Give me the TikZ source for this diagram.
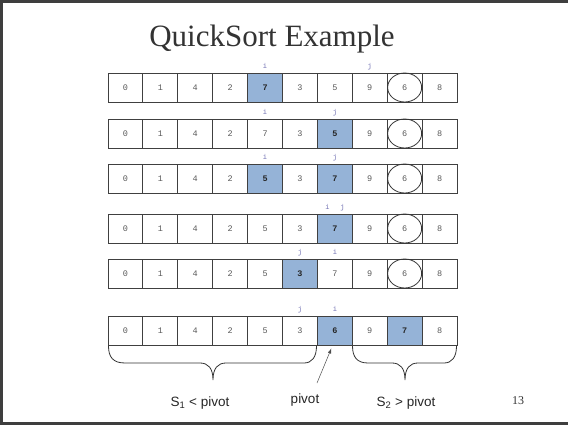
\documentclass[tikz,border=0pt]{standalone}
\usepackage{fontspec}
\setmainfont{Liberation Serif}
\setsansfont{Liberation Sans}
\setmonofont{Liberation Mono}
\usetikzlibrary{shapes.geometric, arrows.meta, positioning, calc}

\definecolor{cellblue}{RGB}{149,179,215}
\definecolor{idxblue}{RGB}{112,112,178}
\definecolor{framegray}{RGB}{62,62,62}

\begin{document}
\begin{tikzpicture}[
  x=1pt, y=-1pt,
  cell/.style    = {rectangle, draw=black!75, line width=0.9pt,
                    minimum width=34.9pt, minimum height=29pt, inner sep=0pt,
                    text=black!65},
  pivring/.style = {ellipse, draw=black!80, line width=0.8pt,
                    minimum width=34pt, minimum height=29pt, inner sep=0pt},
  idx/.style     = {font=\fontsize{7}{8}\selectfont\ttfamily, text=idxblue,
                    inner sep=0pt, anchor=base},
  lbl/.style     = {font=\fontsize{13.5}{15}\selectfont\sffamily, text=black!85,
                    inner sep=0pt, anchor=base},
  brace/.style   = {draw=black!80, line width=0.8pt},
  ptr/.style     = {-{Latex[length=5pt,width=3.5pt]}, draw=black!70, line width=0.5pt},
]

\useasboundingbox (0,0) rectangle (568,425);

% ── Slide frame ───────────────────────────────────────────────────────────────
\draw[framegray, line width=2.6pt] (1.3,1.3) rectangle (580,423.7);

% ── Title ─────────────────────────────────────────────────────────────────────
\node[anchor=base, inner sep=0pt, text=black!80,
      font=\fontsize{31}{34}\selectfont] (title) at (272,47) {QuickSort Example};

% ── Array rows (row / y centre / values / highlighted cells) ─────────────────
\foreach \r/\yc/\vals/\ha/\hb in {
    1/87.5/{0,1,4,2,7,3,5,9,6,8}/4/-1,
    2/133.5/{0,1,4,2,7,3,5,9,6,8}/6/-1,
    3/178.5/{0,1,4,2,5,3,7,9,6,8}/4/6,
    4/228.5/{0,1,4,2,5,3,7,9,6,8}/6/-1,
    5/273.5/{0,1,4,2,5,3,7,9,6,8}/5/-1,
    6/330.5/{0,1,4,2,5,3,6,9,7,8}/6/8}
  \foreach \v [count=\k from 0] in \vals {
    \pgfmathtruncatemacro\hl{(\k==\ha)||(\k==\hb)}
    \ifnum\hl=1
      \def\cfill{cellblue}\def\cfont{\bfseries}\def\ctext{black!85}
    \else
      \def\cfill{white}\def\cfont{}\def\ctext{black!65}
    \fi
    \node[cell, fill=\cfill, text=\ctext,
          font=\fontsize{8.5}{10}\selectfont\ttfamily\cfont]
      (c\r-\k) at ({108+34.9*(\k+0.5)},\yc) {\v};
  }

% ── Pivot rings ──────────────────────────────────────────────────────────────
\foreach \r in {1,...,5}
  \node[pivring] (ring\r) at (c\r-8) {};

% ── i / j markers ────────────────────────────────────────────────────────────
\foreach \r/\k/\t in {1/4/i, 1/7/j, 2/4/i, 2/6/j, 3/4/i, 3/6/j,
                      5/5/j, 5/6/i, 6/5/j, 6/6/i}
  \node[idx, yshift=4pt] (\t\r) at (c\r-\k.north) {\t};
\node[idx, xshift=-7.5pt, yshift=4pt] (i4) at (c4-6.north) {i};
\node[idx, xshift=7.5pt,  yshift=4pt] (j4) at (c4-6.north) {j};

% ── Braces under the final row ───────────────────────────────────────────────
\draw[brace] (108.5,346) .. controls (108.5,357) and (113,363) .. (125,363)
  -- (200,363) .. controls (208,363) and (213,368) .. (213,380)
  .. controls (213,368) and (218,363) .. (226,363)
  -- (304,363) .. controls (312,363) and (316.5,357) .. (316.5,346);
\draw[brace] (352.5,346) .. controls (352.5,357) and (357,363) .. (368,363)
  -- (392,363) .. controls (400,363) and (405,368) .. (405,380)
  .. controls (405,368) and (410,363) .. (418,363)
  -- (444,363) .. controls (452,363) and (456.5,357) .. (456.5,346);

% ── Labels ───────────────────────────────────────────────────────────────────
\node[lbl] (s1)    at (200,406) {S\textsubscript{1} < pivot};
\node[lbl] (pivot) at (305,403) {pivot};
\node[lbl] (s2)    at (406,406) {S\textsubscript{2} > pivot};
\node[anchor=base, inner sep=0pt, text=black!80,
      font=\fontsize{12}{14}\selectfont] (pageno) at (518,404) {13};

% ── Pivot pointer ────────────────────────────────────────────────────────────
\coordinate (pvtail) at (317,383);
\draw[ptr] (pvtail) -- ($(c6-6.south)+(-3.5pt,-3pt)$);

\end{tikzpicture}
\end{document}
